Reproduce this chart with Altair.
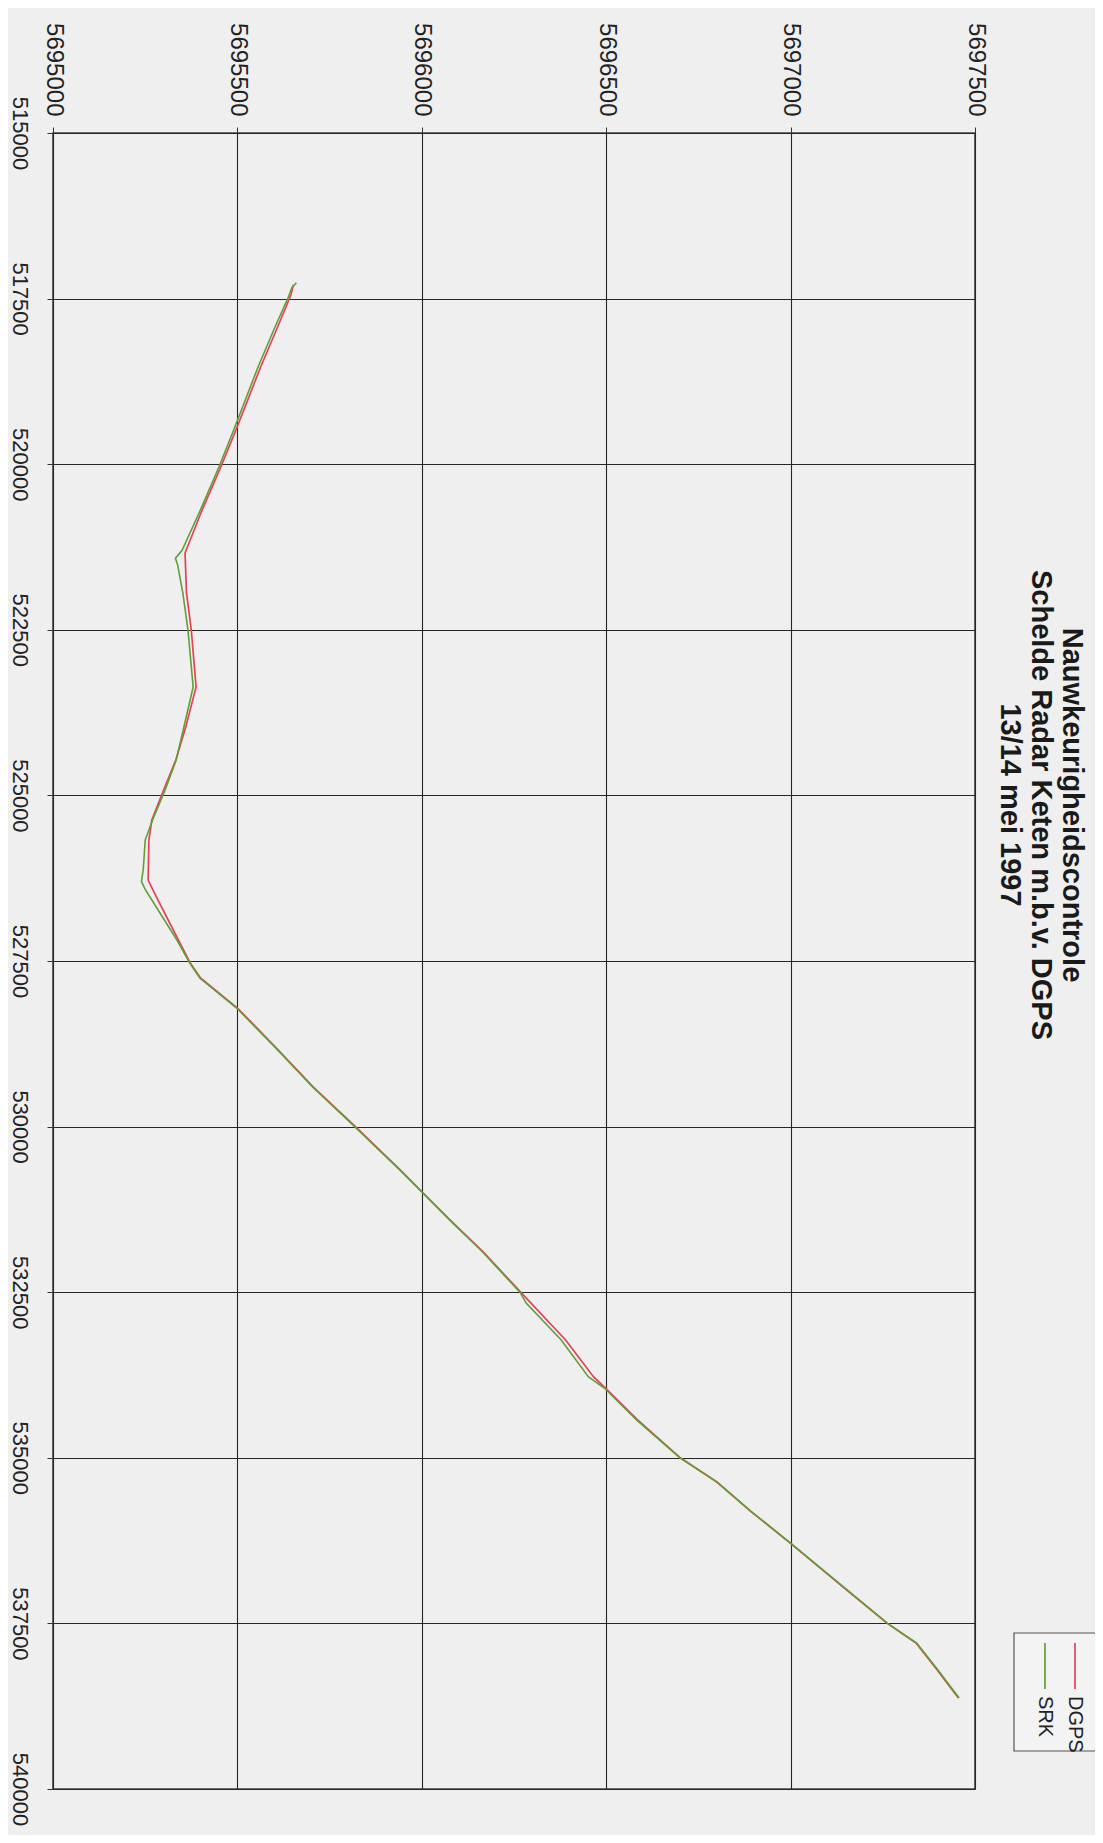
import altair as alt
import pandas as pd

# ---- data ----
TITLE_LINES = ["Nauwkeurigheidscontrole", "Schelde Radar Keten m.b.v. DGPS", "13/14 mei 1997"]
SERIES = ["DGPS", "SRK"]
SERIES_COLORS = ["#e6405a", "#5f9f34"]

X_TICKS = [515000, 517500, 520000, 522500, 525000, 527500, 530000, 532500, 535000, 537500, 540000]
Y_TICKS = [5695000, 5695500, 5696000, 5696500, 5697000, 5697500]

DGPS_X = [517290, 517446, 517929, 518533, 519484, 520042, 520737, 521341, 521944, 522503,
          523364, 523968, 524466, 524919, 525372, 525674, 526278, 526550, 527183, 527530,
          527757, 528210, 528768, 529403, 530000, 530655, 530987, 531410, 531893, 532500,
          533222, 533780, 533947, 534430, 535000, 535366, 535804, 536287, 537000, 537500,
          537797, 538200, 538627]
DGPS_Y = [5695652, 5695645, 5695609, 5695563, 5695496, 5695455, 5695401, 5695358, 5695362, 5695375,
          5695388, 5695360, 5695333, 5695300, 5695268, 5695260, 5695258, 5695282, 5695340, 5695372,
          5695400, 5695500, 5695598, 5695706, 5695820, 5695942, 5696001, 5696077, 5696167, 5696268,
          5696390, 5696466, 5696498, 5696586, 5696701, 5696800, 5696891, 5696999, 5697153, 5697262,
          5697340, 5697397, 5697455]

SRK_X = [517260, 517330, 517480, 517929, 518533, 519484, 520042, 520737, 521300, 521420,
         521520, 521944, 522503, 523364, 523968, 524466, 524919, 525372, 525674, 526100,
         526300, 526420, 527183, 527530, 527757, 528210, 528768, 529403, 530000, 530655,
         530987, 531410, 531893, 532500, 532664, 533222, 533780, 533947, 534430, 535000,
         535366, 535804, 536287, 537000, 537500, 537797, 538200, 538627]
SRK_Y = [5695660, 5695648, 5695638, 5695602, 5695556, 5695490, 5695450, 5695396, 5695350, 5695332,
         5695338, 5695352, 5695366, 5695380, 5695355, 5695334, 5695304, 5695270, 5695250, 5695245,
         5695240, 5695250, 5695336, 5695371, 5695398, 5695498, 5695596, 5695704, 5695818, 5695940,
         5696000, 5696075, 5696165, 5696266, 5696283, 5696378, 5696452, 5696495, 5696583, 5696700,
         5696801, 5696892, 5697000, 5697155, 5697263, 5697342, 5697399, 5697457]

FONT = "Liberation Sans"
W, H = 922, 1656

dgps = pd.DataFrame({"x": DGPS_X, "y": DGPS_Y, "i": range(len(DGPS_X))})
srk = pd.DataFrame({"x": SRK_X, "y": SRK_Y, "i": range(len(SRK_X))})

xenc = alt.X("y:Q",
             scale=alt.Scale(domain=[Y_TICKS[0], Y_TICKS[-1]], nice=False, zero=False),
             axis=alt.Axis(orient="top", values=Y_TICKS, format="d", labelAngle=90,
                           labelAlign="right", labelBaseline="middle", labelPadding=11,
                           tickSize=6, tickColor="#333", domain=False, grid=True,
                           gridColor="#262626", gridWidth=1.1, labelFont=FONT, labelFontSize=24,
                           labelColor="#222", title=None))
yenc = alt.Y("x:Q",
             scale=alt.Scale(domain=[X_TICKS[0], X_TICKS[-1]], nice=False, zero=False, reverse=True),
             axis=alt.Axis(orient="left", values=X_TICKS, format="d", labelAngle=90,
                           labelAlign="center", labelBaseline="top", labelPadding=18,
                           tickSize=6, tickColor="#333", domain=False, grid=True,
                           gridColor="#262626", gridWidth=1.1, labelFont=FONT, labelFontSize=22,
                           labelColor="#222", title=None))

line_dgps = alt.Chart(dgps).mark_line(color=SERIES_COLORS[0], strokeWidth=1.7).encode(
    x=xenc, y=yenc, order="i:Q")
line_srk = alt.Chart(srk).mark_line(color=SERIES_COLORS[1], strokeWidth=1.6).encode(
    x=alt.X("y:Q"), y=alt.Y("x:Q"), order="i:Q")

layers = [line_dgps, line_srk]

# title (rotated like the rest of the page)
title_x = [1019, 988, 957]
for k, t in enumerate(TITLE_LINES):
    layers.append(
        alt.Chart(pd.DataFrame({"t": [t]})).mark_text(
            angle=90, align="center", baseline="middle", font=FONT, fontSize=29,
            fontWeight="bold", color="#1a1a1a").encode(
            text="t:N", x=alt.value(title_x[k]), y=alt.value(672)))

# legend box (rotated)
layers.append(
    alt.Chart(pd.DataFrame({"a": [0]})).mark_rect(fill="#f3f3f3", stroke="#555", strokeWidth=1.2).encode(
        x=alt.value(961), x2=alt.value(1043), y=alt.value(1500), y2=alt.value(1618)))
leg_x = [1022, 992]
for k, s in enumerate(SERIES):
    layers.append(
        alt.Chart(pd.DataFrame({"a": [0]})).mark_rule(color=SERIES_COLORS[k], strokeWidth=1.7).encode(
            x=alt.value(leg_x[k]), y=alt.value(1510), y2=alt.value(1556)))
    layers.append(
        alt.Chart(pd.DataFrame({"t": [s]})).mark_text(
            angle=90, align="left", baseline="middle", font=FONT, fontSize=20,
            color="#222").encode(
            text="t:N", x=alt.value(leg_x[k]), y=alt.value(1563)))

chart = alt.layer(*layers).properties(
    width=W, height=H,
    autosize=alt.AutoSizeParams(type="none"),
    padding={"left": 45, "top": 125, "right": 120, "bottom": 46},
    background="#efefef",
).configure_view(stroke="#444", strokeWidth=1.6)

chart.save("out.html", embed_options={"renderer": "svg", "actions": False})
